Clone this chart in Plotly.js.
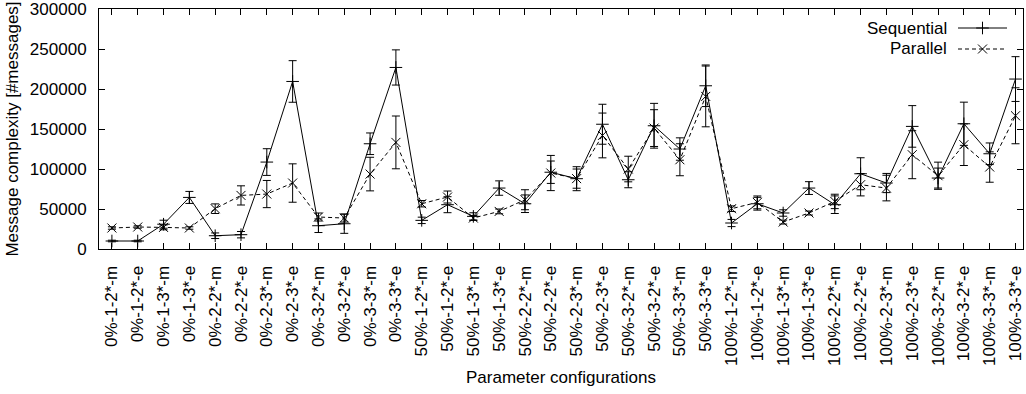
<!DOCTYPE html>
<html>
<head>
<meta charset="utf-8">
<script src="https://cdn.plot.ly/plotly-3.0.1.min.js"></script>
<style>html,body{margin:0;padding:0;background:#fff;}#chart{width:1026px;height:394px;}</style>
</head>
<body>
<div id="chart"></div>
<script>
const categories = [
  "0%-1-2*-m","0%-1-2*-e","0%-1-3*-m","0%-1-3*-e","0%-2-2*-m","0%-2-2*-e",
  "0%-2-3*-m","0%-2-3*-e","0%-3-2*-m","0%-3-2*-e","0%-3-3*-m","0%-3-3*-e",
  "50%-1-2*-m","50%-1-2*-e","50%-1-3*-m","50%-1-3*-e","50%-2-2*-m","50%-2-2*-e",
  "50%-2-3*-m","50%-2-3*-e","50%-3-2*-m","50%-3-2*-e","50%-3-3*-m","50%-3-3*-e",
  "100%-1-2*-m","100%-1-2*-e","100%-1-3*-m","100%-1-3*-e","100%-2-2*-m","100%-2-2*-e",
  "100%-2-3*-m","100%-2-3*-e","100%-3-2*-m","100%-3-2*-e","100%-3-3*-m","100%-3-3*-e"
];
const sequential = [10000,10000,31000,64500,16600,17900,108700,209500,29100,31600,131600,227000,
  35800,55400,40800,76200,56600,96000,87900,156000,86600,154100,125000,204100,
  32500,56600,45000,76200,55400,94100,82500,153300,88700,156600,119100,212500];
const sequentialErr = [1000,1000,5000,7500,3500,4000,16700,26000,8500,12000,13500,22000,
  4000,10000,4500,9000,11000,14000,15000,25000,10000,28000,14000,26000,
  4500,8000,4000,8000,11000,20000,12000,26000,12500,27000,13500,28000];
const parallel = [26250,27500,27000,26250,50400,67000,68700,82500,40000,38700,93700,133300,
  56600,65000,38700,47000,61600,95000,88000,142000,100000,151200,111600,190800,
  50400,58300,33700,45000,59500,80400,76200,117900,91600,130400,102500,166600];
const parallelErr = [1500,1500,3000,1500,6000,12000,17000,24000,5000,5000,21000,33000,
  4000,7500,3000,3000,12500,22000,12000,28000,16000,23000,20000,38000,
  3500,8000,2500,2500,9000,14000,16000,30000,17000,26000,19000,35000];
const yTicks = [0,50000,100000,150000,200000,250000,300000];
const seriesNames = ["Sequential","Parallel"];

const FONT = "'Liberation Sans', Arial, Helvetica, sans-serif";
const idx = categories.map((c,i)=>i);

const traces = [
  {
    x: idx, y: sequential, name: seriesNames[0], type: "scatter", mode: "lines+markers",
    line: {color: "#000", width: 1},
    marker: {symbol: "cross-thin-open", size: 9, color: "#000", line: {color: "#000", width: 1}},
    error_y: {type: "data", array: sequentialErr, visible: true, color: "#000", thickness: 1, width: 4}
  },
  {
    x: idx, y: parallel, name: seriesNames[1], type: "scatter", mode: "lines+markers",
    line: {color: "#000", width: 1, dash: "4px,3px"},
    marker: {symbol: "x-thin-open", size: 9, color: "#000", line: {color: "#000", width: 1}},
    error_y: {type: "data", array: parallelErr, visible: true, color: "#000", thickness: 1, width: 4}
  }
];

const W = 1026, H = 394, L = 99, R = 3, T = 9, B = 145;
const pw = W - L - R, ph = H - T - B;
const px = v => (v - L) / pw;
const py = v => (H - B - v) / ph;

const annotations = [];
// legend text
annotations.push({x: px(949), y: py(28), xref: "paper", yref: "paper", text: seriesNames[0],
  showarrow: false, xanchor: "right", yanchor: "middle", font: {family: FONT, size: 17, color: "#000"}});
annotations.push({x: px(949), y: py(49), xref: "paper", yref: "paper", text: seriesNames[1],
  showarrow: false, xanchor: "right", yanchor: "middle", font: {family: FONT, size: 17, color: "#000"}});

const shapes = [
  {type: "line", xref: "paper", yref: "paper", x0: px(958), x1: px(1007), y0: py(28), y1: py(28), line: {color: "#000", width: 1}},
  {type: "line", xref: "paper", yref: "paper", x0: px(958), x1: px(1007), y0: py(49), y1: py(49), line: {color: "#000", width: 1, dash: "4px,3px"}}
];

const legendMarkers = [
  {x: [px(982.5)], y: [py(28)], xaxis: "x2", yaxis: "y2", mode: "markers", showlegend: false, hoverinfo: "skip",
   marker: {symbol: "cross-thin-open", size: 9, color: "#000", line: {color: "#000", width: 1}}},
  {x: [px(982.5)], y: [py(49)], xaxis: "x2", yaxis: "y2", mode: "markers", showlegend: false, hoverinfo: "skip",
   marker: {symbol: "x-thin-open", size: 9, color: "#000", line: {color: "#000", width: 1}}}
];

const layout = {
  width: W, height: H,
  margin: {l: L, r: R, t: T, b: B},
  paper_bgcolor: "#fff", plot_bgcolor: "#fff",
  showlegend: false,
  font: {family: FONT, size: 17, color: "#000"},
  xaxis: {
    range: [-0.5, 35.29], tickvals: idx, ticktext: categories, tickangle: -90,
    ticks: "inside", ticklen: 6, tickwidth: 1, tickcolor: "#000",
    showline: true, linecolor: "#000", linewidth: 1, mirror: "ticks",
    showgrid: false, zeroline: false, ticklabelstandoff: 9,
    tickfont: {family: FONT, size: 17, color: "#000"},
    title: {text: "Parameter configurations", font: {family: FONT, size: 17, color: "#000"}, standoff: 6}
  },
  yaxis: {
    range: [0, 300100], tickvals: yTicks, tickformat: "d",
    ticks: "inside", ticklen: 6, tickwidth: 1, tickcolor: "#000",
    showline: true, linecolor: "#000", linewidth: 1, mirror: "ticks",
    showgrid: false, zeroline: false, ticklabelstandoff: 8,
    tickfont: {family: FONT, size: 17, color: "#000"},
    title: {text: "Message complexity [#messages]", font: {family: FONT, size: 17, color: "#000"}, standoff: 6}
  },
  xaxis2: {domain: [0,1], range: [0,1], visible: false, overlaying: "x", anchor: "y2"},
  yaxis2: {domain: [0,1], range: [0,1], visible: false, overlaying: "y", anchor: "x2"},
  annotations: annotations,
  shapes: shapes
};

Plotly.newPlot("chart", traces.concat(legendMarkers), layout, {displayModeBar: false, staticPlot: true});
</script>
</body>
</html>
